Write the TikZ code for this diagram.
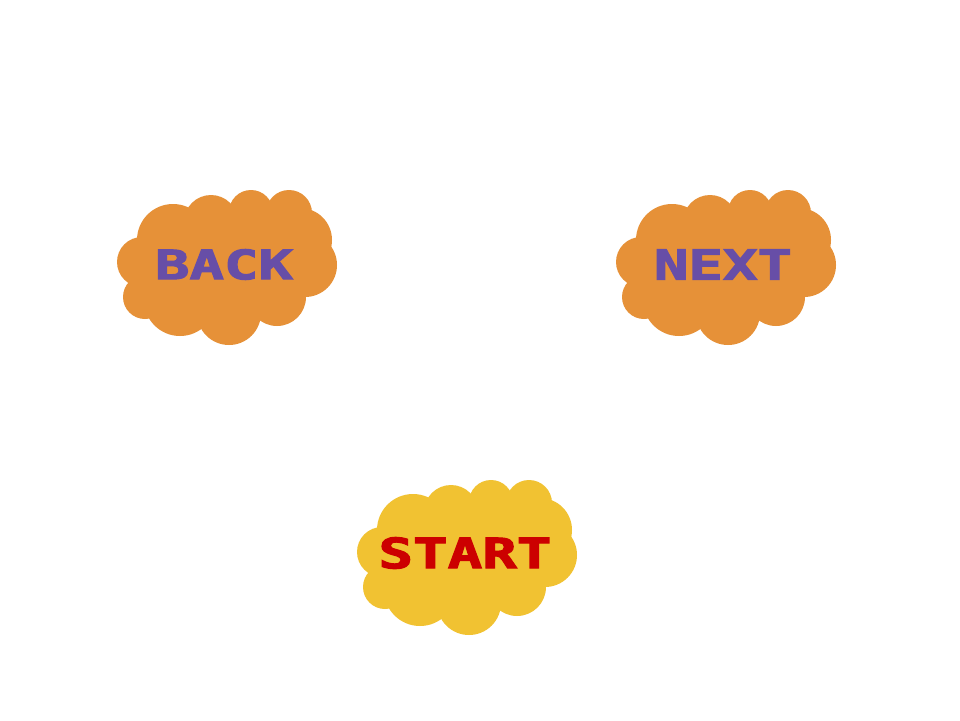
\documentclass[tikz,border=0pt]{standalone}
\usepackage{fontspec}
\newfontfamily\pixfont[BoldFeatures={FakeBold=2.5}]{DejaVu Sans Mono}
\definecolor{cloudorange}{HTML}{E69138}
\definecolor{cloudyellow}{HTML}{F1C232}
\definecolor{textpurple}{HTML}{674EA7}
\definecolor{textred}{HTML}{CC0000}
\tikzset{
  cloudshape/.pic={
    \fill (173,240) circle[radius=36];
    \fill (211,222) circle[radius=27];
    \fill (251,212) circle[radius=22];
    \fill (289,213) circle[radius=23];
    \fill (300,240) circle[radius=32];
    \fill (305,265) circle[radius=32];
    \fill (277,297) circle[radius=29];
    \fill (229,313) circle[radius=32];
    \fill (180,300) circle[radius=36];
    \fill (145,297) circle[radius=22];
    \fill (142,262) circle[radius=25];
    \fill (225,265) ellipse[x radius=85, y radius=52];
  },
  btnlabel/.style={inner sep=0pt, font=\pixfont\bfseries}
}
\begin{document}
\begin{tikzpicture}[x=1pt,y=-1pt]
\useasboundingbox (0,0) rectangle (960,720);
\fill[white] (0,0) rectangle (960,720);
% BACK cloud
\pic[fill=cloudorange] at (0,0) {cloudshape};
\node[btnlabel, text=textpurple] (back) at (224,264.5) {\resizebox{138pt}{30pt}{BACK}};
% NEXT cloud
\pic[fill=cloudorange] at (499,0) {cloudshape};
\node[btnlabel, text=textpurple] (next) at (723,264.5) {\resizebox{138pt}{30pt}{NEXT}};
% START cloud
\pic[fill=cloudyellow] at (240,290) {cloudshape};
\node[btnlabel, text=textred] (start) at (465,553) {\resizebox{173pt}{31pt}{START}};
\end{tikzpicture}
\end{document}
